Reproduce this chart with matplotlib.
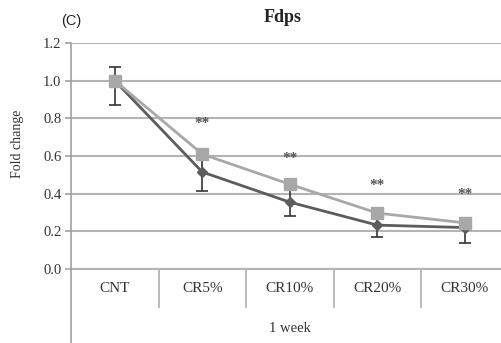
import matplotlib
matplotlib.use("Agg")
import matplotlib.pyplot as plt
import numpy as np

categories = ["CNT", "CR5%", "CR10%", "CR20%", "CR30%"]
dark_vals = [1.00, 0.515, 0.355, 0.233, 0.22]
dark_err_low = [0.13, 0.10, 0.075, 0.065, 0.08]
dark_err_high = [0.07, 0.09, 0.09, 0.06, 0.025]
light_vals = [1.00, 0.61, 0.45, 0.297, 0.245]
star_y = [None, 0.775, 0.585, 0.445, 0.395]
yticks = [0.0, 0.2, 0.4, 0.6, 0.8, 1.0, 1.2]

plt.rcParams['font.family'] = ['Liberation Serif', 'DejaVu Serif']

fig = plt.figure(figsize=(5.02, 3.43), dpi=100)
ax = fig.add_axes([71/502, 74/343, 437.5/502, 226/343])

x = np.arange(len(categories))
grid_c = '#b4b4b4'
ax.set_xlim(-0.5, len(categories) - 0.5)
ax.set_ylim(0, 1.2)
ax.set_yticks(yticks)
ax.set_yticklabels([f"{v:.1f}" for v in yticks], fontsize=10.5, color='#333333')
ax.yaxis.grid(True, color=grid_c, lw=1.5, zorder=0)
ax.set_axisbelow(True)
for s in ['top', 'right', 'bottom']:
    ax.spines[s].set_visible(False)
ax.spines['left'].set_color('#a0a0a0')
ax.spines['left'].set_linewidth(1.2)
ax.tick_params(axis='y', length=4, color='#a0a0a0', width=1.2, pad=3)
ax.tick_params(axis='x', length=0, labelbottom=False)

dark_c = '#5c5c5c'
light_c = '#a8a8a8'

ax.errorbar(x, dark_vals, yerr=[dark_err_low, dark_err_high], color=dark_c,
            lw=2, marker='D', ms=5, ecolor='#333333', elinewidth=1.2,
            capsize=4, capthick=1.2, zorder=3)
ax.plot(x, light_vals, color=light_c, lw=2, marker='s', ms=9, zorder=4)

for xi, sy in zip(x, star_y):
    if sy is not None:
        ax.text(xi, sy, "**", ha='center', va='center', fontsize=11, fontweight='bold', color='#555555')

tr = ax.get_xaxis_transform()
ax.plot([-0.5 - 0.05, len(categories) - 0.5], [0, 0], transform=tr, color=grid_c, lw=1.5, clip_on=False)
for d in np.arange(0.5, len(categories) - 0.5, 1.0):
    ax.plot([d, d], [0, -0.168], transform=tr, color=grid_c, lw=1.3, clip_on=False)
ax.plot([-0.5, -0.5], [0, -0.35], transform=tr, color='#a0a0a0', lw=1.2, clip_on=False)

for xi, c in zip(x, categories):
    ax.text(xi, -0.085, c, transform=tr, ha='center', va='center', fontsize=11, color='#333333')

ax.text(2, -0.265, "1 week", transform=tr, ha='center', va='center', fontsize=10.5, color='#333333')

fig.text(283/502, 1 - 17/343, "Fdps", ha='center', va='center', fontsize=13, fontweight='bold', color='#222222')
fig.text(71/502, 1 - 21/343, "(C)", ha='center', va='center', fontsize=10.5, color='#222222',
         family=['Liberation Sans', 'DejaVu Sans'])
fig.text(18/502, 1 - 144/343, "Fold change", ha='center', va='center', rotation=90, fontsize=10,
         color='#333333')

fig.savefig("out.png", dpi=100)
